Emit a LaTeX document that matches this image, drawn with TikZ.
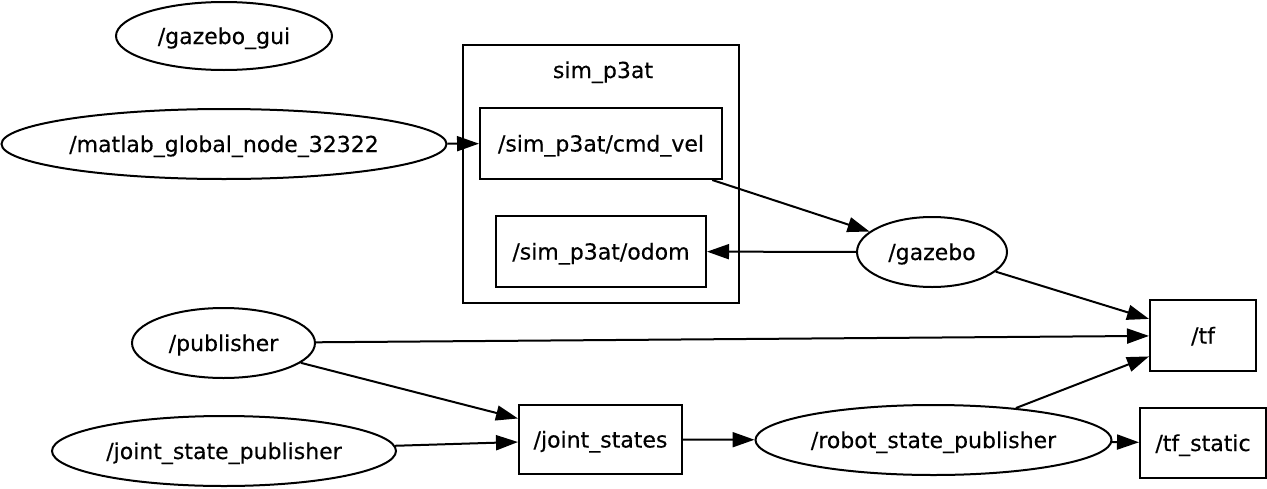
\documentclass[tikz,border=0pt]{standalone}
\usepackage{fontspec}
\setmainfont{DejaVu Sans}
\newfontfamily\nodefont[FakeBold=0.3]{DejaVu Sans}
\usetikzlibrary{shapes.geometric,arrows.meta}
\begin{document}
\begin{tikzpicture}[x=1pt,y=-1pt,
  every node/.style={font=\nodefont\fontsize{22}{26}\selectfont, inner sep=0pt, line width=2pt, text height=17pt, text depth=1pt},
  nodeell/.style={draw, ellipse},
  topicbox/.style={draw, rectangle},
  edge/.style={line width=2pt, -{Triangle[length=22pt,width=15pt]}},
]
\useasboundingbox (0,0) rectangle (1267,488);
% cluster
\node[draw, rectangle, minimum width=276pt, minimum height=258pt] (cluster) at (601,174) {};
\node (clabel) at (603,70) {sim\_p3at};
% nodes
\node[nodeell, minimum width=216pt, minimum height=68pt] (gui) at (224,36) {/gazebo\_gui};
\node[nodeell, minimum width=445pt, minimum height=70pt] (matlab) at (224,144) {/matlab\_global\_node\_32322};
\node[topicbox, minimum width=242pt, minimum height=71pt] (cmdvel) at (601,143.5) {/sim\_p3at/cmd\_vel};
\node[topicbox, minimum width=210pt, minimum height=71pt] (odom) at (601,251.5) {/sim\_p3at/odom};
\node[nodeell, minimum width=150pt, minimum height=70pt] (gazebo) at (932,252) {/gazebo};
\node[topicbox, minimum width=106pt, minimum height=71pt] (tf) at (1203,335.5) {/tf};
\node[nodeell, minimum width=183pt, minimum height=70pt] (pub) at (223.5,343) {/publisher};
\node[nodeell, minimum width=344pt, minimum height=70pt] (jsp) at (224,451) {/joint\_state\_publisher};
\node[topicbox, minimum width=163pt, minimum height=69pt] (js) at (600.5,439.5) {/joint\_states};
\node[nodeell, minimum width=356pt, minimum height=70pt] (rsp) at (933.5,440) {/robot\_state\_publisher};
\node[topicbox, minimum width=126pt, minimum height=70pt] (tfs) at (1203,443) {/tf\_static};
% edges
\draw[edge] (matlab) -- (cmdvel);
\draw[edge] (cmdvel) -- (gazebo);
\draw[edge] (gazebo) -- (odom);
\draw[edge] (gazebo) -- (tf);
\draw[edge] (pub) -- (tf);
\draw[edge] (pub) -- (js);
\draw[edge] (jsp) -- (js);
\draw[edge] (js) -- (rsp);
\draw[edge] (rsp) -- (tf);
\draw[edge] (rsp) -- (tfs);
\end{tikzpicture}
\end{document}
